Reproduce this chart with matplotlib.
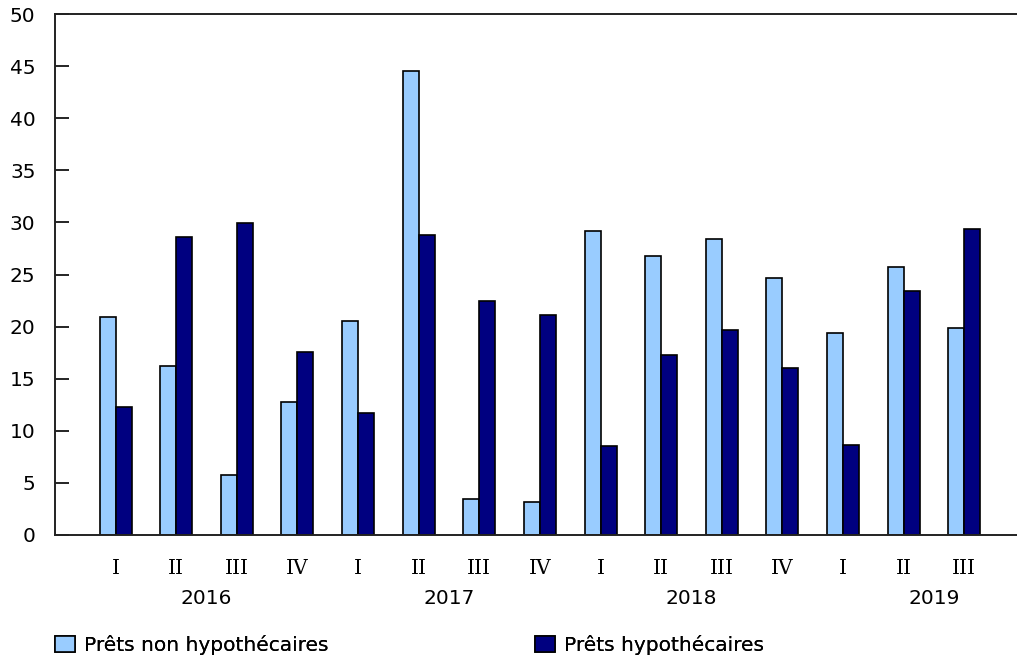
import matplotlib
matplotlib.use("Agg")
import matplotlib.pyplot as plt
from matplotlib.patches import Patch
import matplotlib.transforms as mtransforms
import numpy as np

quarters = ["I", "II", "III", "IV", "I", "II", "III", "IV",
            "I", "II", "III", "IV", "I", "II", "III"]
years = ["2016", "2017", "2018", "2019"]
non_mortgage = [20.9, 16.2, 5.8, 12.8, 20.5, 44.5, 3.5, 3.2,
                29.2, 26.8, 28.4, 24.7, 19.4, 25.7, 19.9]
mortgage = [12.3, 28.6, 29.9, 17.6, 11.7, 28.8, 22.5, 21.1,
            8.5, 17.3, 19.7, 16.0, 8.6, 23.4, 29.4]
series_names = ["Prêts non hypothécaires", "Prêts hypothécaires"]
yticks = [0, 5, 10, 15, 20, 25, 30, 35, 40, 45, 50]

light = "#99CCFF"
dark = "#000080"
fs = 14.5

plt.rcParams["font.family"] = ["DejaVu Sans"]
fig = plt.figure(figsize=(10.17, 6.6), dpi=100)
ax = fig.add_axes([55/1017, 125/660, 1 - 55/1017, (535-14)/660])

x = np.arange(len(quarters))
w = 0.264
ax.bar(x - w/2, non_mortgage, width=w, color=light, edgecolor="black", linewidth=1.2, zorder=2)
ax.bar(x + w/2, mortgage, width=w, color=dark, edgecolor="black", linewidth=1.2, zorder=2)

ax.set_xlim(-1.0, 14.87)
ax.set_ylim(0, 50)
ax.set_yticks(yticks)
ax.set_yticklabels([str(v) for v in yticks], fontsize=fs)
ax.tick_params(axis="y", direction="in", length=10, width=1.2, pad=14)
ax.set_xticks(x)
ax.set_xticklabels(quarters, fontsize=fs, family="DejaVu Serif")
ax.tick_params(axis="x", length=0, pad=17)

ax.spines["right"].set_visible(False)
for s in ["top", "left", "bottom"]:
    ax.spines[s].set_linewidth(1.4)
    ax.spines[s].set_color("#222222")

trans = mtransforms.blended_transform_factory(ax.transData, ax.transAxes)
for i, yr in enumerate(years):
    ax.text(i*4 + 1.5, -0.121, yr, transform=trans, ha="center", va="center", fontsize=fs)

handles = [Patch(facecolor=light, edgecolor="black", linewidth=1.2),
           Patch(facecolor=dark, edgecolor="black", linewidth=1.2)]
anchors = [(55/1017, 1 - 645/660), (535/1017, 1 - 645/660)]
for h, name, anc in zip(handles, series_names, anchors):
    leg = fig.legend([h], [name], loc="center left", bbox_to_anchor=anc,
                     frameon=False, fontsize=fs, handlelength=1.0,
                     handleheight=0.85, handletextpad=0.42, borderpad=0,
                     borderaxespad=0)
    fig.add_artist(leg)

fig.savefig("out.png", dpi=100)
